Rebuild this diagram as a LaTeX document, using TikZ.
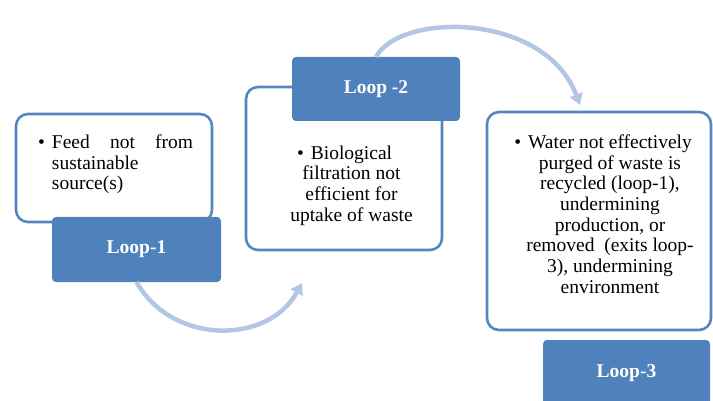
\documentclass[tikz,border=0pt]{standalone}
\usepackage{fontspec}
\setmainfont{Liberation Serif}
\usetikzlibrary{arrows.meta}
\definecolor{loopblue}{HTML}{4F81BD}
\definecolor{edgeblue}{HTML}{5486C2}
\definecolor{flowblue}{HTML}{B3C6E4}
\begin{document}
\begin{tikzpicture}[x=1pt,y=-1pt,
    every node/.style={outer sep=0pt,inner sep=0pt},
    infobox/.style={draw=edgeblue,line width=2.6pt,fill=white,rounded corners=12pt},
    loopbox/.style={fill=loopblue,rounded corners=4pt,text=white,font=\fontsize{19.5}{22}\selectfont\bfseries},
    bodytext/.style={font=\fontsize{19.5}{20.7}\selectfont},
    loopflow/.style={draw=flowblue,line width=4.5pt,-{Triangle[length=11pt,width=13pt]}}]
    \useasboundingbox (0,0) rectangle (713,401);

    % loop 1
    \node[infobox,minimum width=196pt,minimum height=108pt] (box1) at (114,168) {};
    \node[bodytext,text width=141pt,align=left,anchor=north west] (txt1) at (52,134.7)
        {\llap{\textbullet\hspace{7pt}}\hbox to 141pt{Feed\hfill not\hfill from}\\sustainable\\source(s)};
    \node[loopbox,minimum width=169pt,minimum height=65pt] (loop1) at (136.5,249.5) {Loop-1};

    % loop 2
    \node[infobox,minimum width=196pt,minimum height=163pt] (box2) at (344,168.5) {};
    \node[bodytext,align=center,anchor=north] (txt2) at (351.5,145.7)
        {\llap{\textbullet\hspace{7pt}}Biological\\filtration not\\efficient for\\uptake of waste};
    \node[loopbox,minimum width=168pt,minimum height=64pt] (loop2) at (376,89) {Loop -2};

    % loop 3
    \node[infobox,minimum width=224pt,minimum height=218pt] (box3) at (599,221) {};
    \node[bodytext,align=center,anchor=north] (txt3) at (610,134.7)
        {\llap{\textbullet\hspace{7pt}}Water not effectively\\purged of waste is\\recycled (loop-1),\\undermining\\production, or\\removed\ \ (exits loop-\\3), undermining\\environment};
    \node[loopbox,minimum width=167pt,minimum height=66pt] (loop3) at (626.5,373) {Loop-3};

    % arrows between the loops
    \coordinate (end1) at (302,283);
    \coordinate (end2) at (580,105);
    \draw[loopflow] (loop1.south) .. controls (172,345) and (268,345) .. (end1);
    \draw[loopflow] (loop2.north) .. controls (400,12) and (545,12) .. (end2);
\end{tikzpicture}
\end{document}
